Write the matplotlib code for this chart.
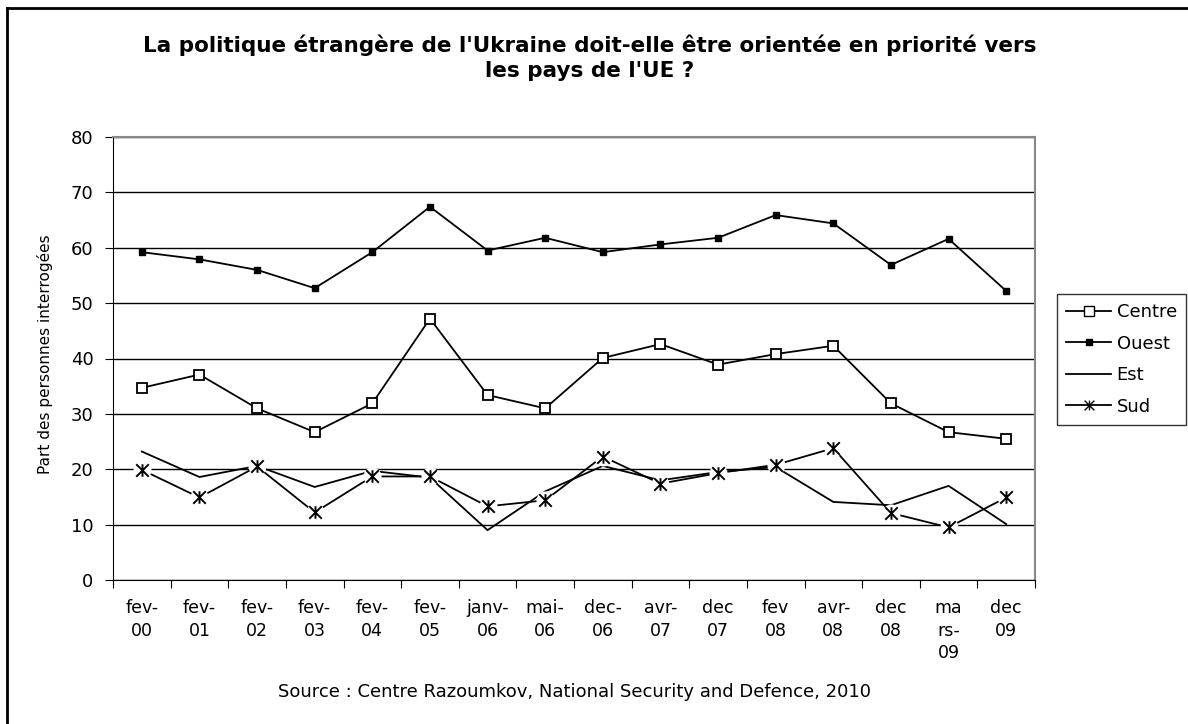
import matplotlib.pyplot as plt
from matplotlib.path import Path
from matplotlib.lines import Line2D

plt.rcParams['font.family'] = ['DejaVu Sans']

# Data
periods = ['fev-\n00', 'fev-\n01', 'fev-\n02', 'fev-\n03', 'fev-\n04', 'fev-\n05',
           'janv-\n06', 'mai-\n06', 'dec-\n06', 'avr-\n07', 'dec\n07', 'fev\n08',
           'avr-\n08', 'dec\n08', 'ma\nrs-\n09', 'dec\n09']
centre = [34.7, 37.1, 31.0, 26.7, 31.9, 47.2, 33.4, 31.0,
          40.1, 42.6, 38.9, 40.8, 42.3, 31.9, 26.7, 25.5]
ouest = [59.2, 57.9, 56.0, 52.7, 59.2, 67.4, 59.5, 61.8,
         59.2, 60.6, 61.8, 65.9, 64.4, 56.9, 61.6, 52.2]
est = [23.2, 18.6, 20.6, 16.8, 19.7, 18.5, 9.0, 16.0,
       20.6, 18.0, 19.5, 20.4, 14.1, 13.5, 17.0, 10.1]
sud = [19.9, 14.9, 20.5, 12.2, 18.7, 18.7, 13.3, 14.4,
       22.3, 17.4, 19.3, 20.8, 23.8, 12.1, 9.5, 14.9]

# Excel-style asterisk marker: x plus vertical bar
star = Path([(-1, -1), (1, 1), (-1, 1), (1, -1), (0, -1), (0, 1)],
            [Path.MOVETO, Path.LINETO, Path.MOVETO, Path.LINETO, Path.MOVETO, Path.LINETO])

fig = plt.figure(figsize=(11.88, 7.24), dpi=100)
ax = fig.add_axes([113 / 1188, 1 - 580 / 724, 922 / 1188, 443 / 724])

x = list(range(len(periods)))

ax.plot(x, est, color='black', lw=1.3, zorder=3)
ax.plot(x, sud, color='black', lw=1.3, zorder=3)
ax.plot(x, ouest, color='black', lw=1.3, marker='s', ms=5, mfc='black', mec='black', zorder=3)
ax.plot(x, centre, color='black', lw=1.3, marker='s', ms=7.5, mfc='white', mec='black', mew=1.3, zorder=4)
# white halo round the Sud markers, then the asterisk
ax.plot(x, sud, ls='none', marker='o', ms=13, mfc='white', mec='none', zorder=4)
ax.plot(x, sud, ls='none', marker=star, ms=9, mec='black', mew=1.4, zorder=5)

ax.set_xlim(-0.5, len(periods) - 0.5)
ax.set_ylim(0, 80)
ax.set_yticks(range(0, 81, 10))
ax.yaxis.grid(True, color='black', lw=1)
ax.set_axisbelow(True)

ax.set_xticks([i - 0.5 for i in range(len(periods) + 1)])
ax.set_xticklabels([])
ax.set_xticks(x, minor=True)
ax.set_xticklabels(periods, minor=True, fontsize=12.5, linespacing=1.3, va='top')
ax.tick_params(axis='x', which='major', direction='out', length=6, color='black')
ax.tick_params(axis='x', which='minor', length=0, pad=14)
ax.tick_params(axis='y', direction='out', length=6, labelsize=13, pad=8)

for s in ['left', 'bottom']:
    ax.spines[s].set_color('black')
for s in ['right', 'top']:
    ax.spines[s].set_color('#888888')
    ax.spines[s].set_linewidth(1.5)

fig.text(45 / 1188, 1 - 354 / 724, 'Part des personnes interrogées', rotation=90,
         ha='center', va='center', fontsize=11)

fig.text(590 / 1188, 1 - 58 / 724,
         "La politique étrangère de l'Ukraine doit-elle être orientée en priorité vers\nles pays de l'UE ?",
         ha='center', va='center', fontsize=15.5, fontweight='bold', linespacing=1.3)

fig.text(575 / 1188, 1 - 692 / 724,
         'Source : Centre Razoumkov, National Security and Defence, 2010',
         ha='center', va='center', fontsize=13)

handles = [
    Line2D([], [], color='black', lw=1.3, marker='s', ms=7, mfc='white', mec='black'),
    Line2D([], [], color='black', lw=1.3, marker='s', ms=5, mfc='black', mec='black'),
    Line2D([], [], color='black', lw=1.3),
    Line2D([], [], color='black', lw=1.3, marker=star, ms=7, mec='black'),
]
leg = fig.legend(handles, ['Centre', 'Ouest', 'Est', 'Sud'],
                 loc='upper left', bbox_to_anchor=(1057 / 1188, 1 - 294 / 724),
                 borderaxespad=0, fontsize=13, frameon=True, fancybox=False,
                 handlelength=2.5, handletextpad=0.3, labelspacing=0.75,
                 borderpad=0.5)
leg.get_frame().set_edgecolor('black')
leg.get_frame().set_linewidth(1)

# outer chart frame (left and top edges)
fig.add_artist(Line2D([7 / 1188, 7 / 1188], [0, 1 - 8 / 724], color='black', lw=2))
fig.add_artist(Line2D([7 / 1188, 1], [1 - 8 / 724, 1 - 8 / 724], color='black', lw=2))

fig.savefig('out.png', dpi=100)
